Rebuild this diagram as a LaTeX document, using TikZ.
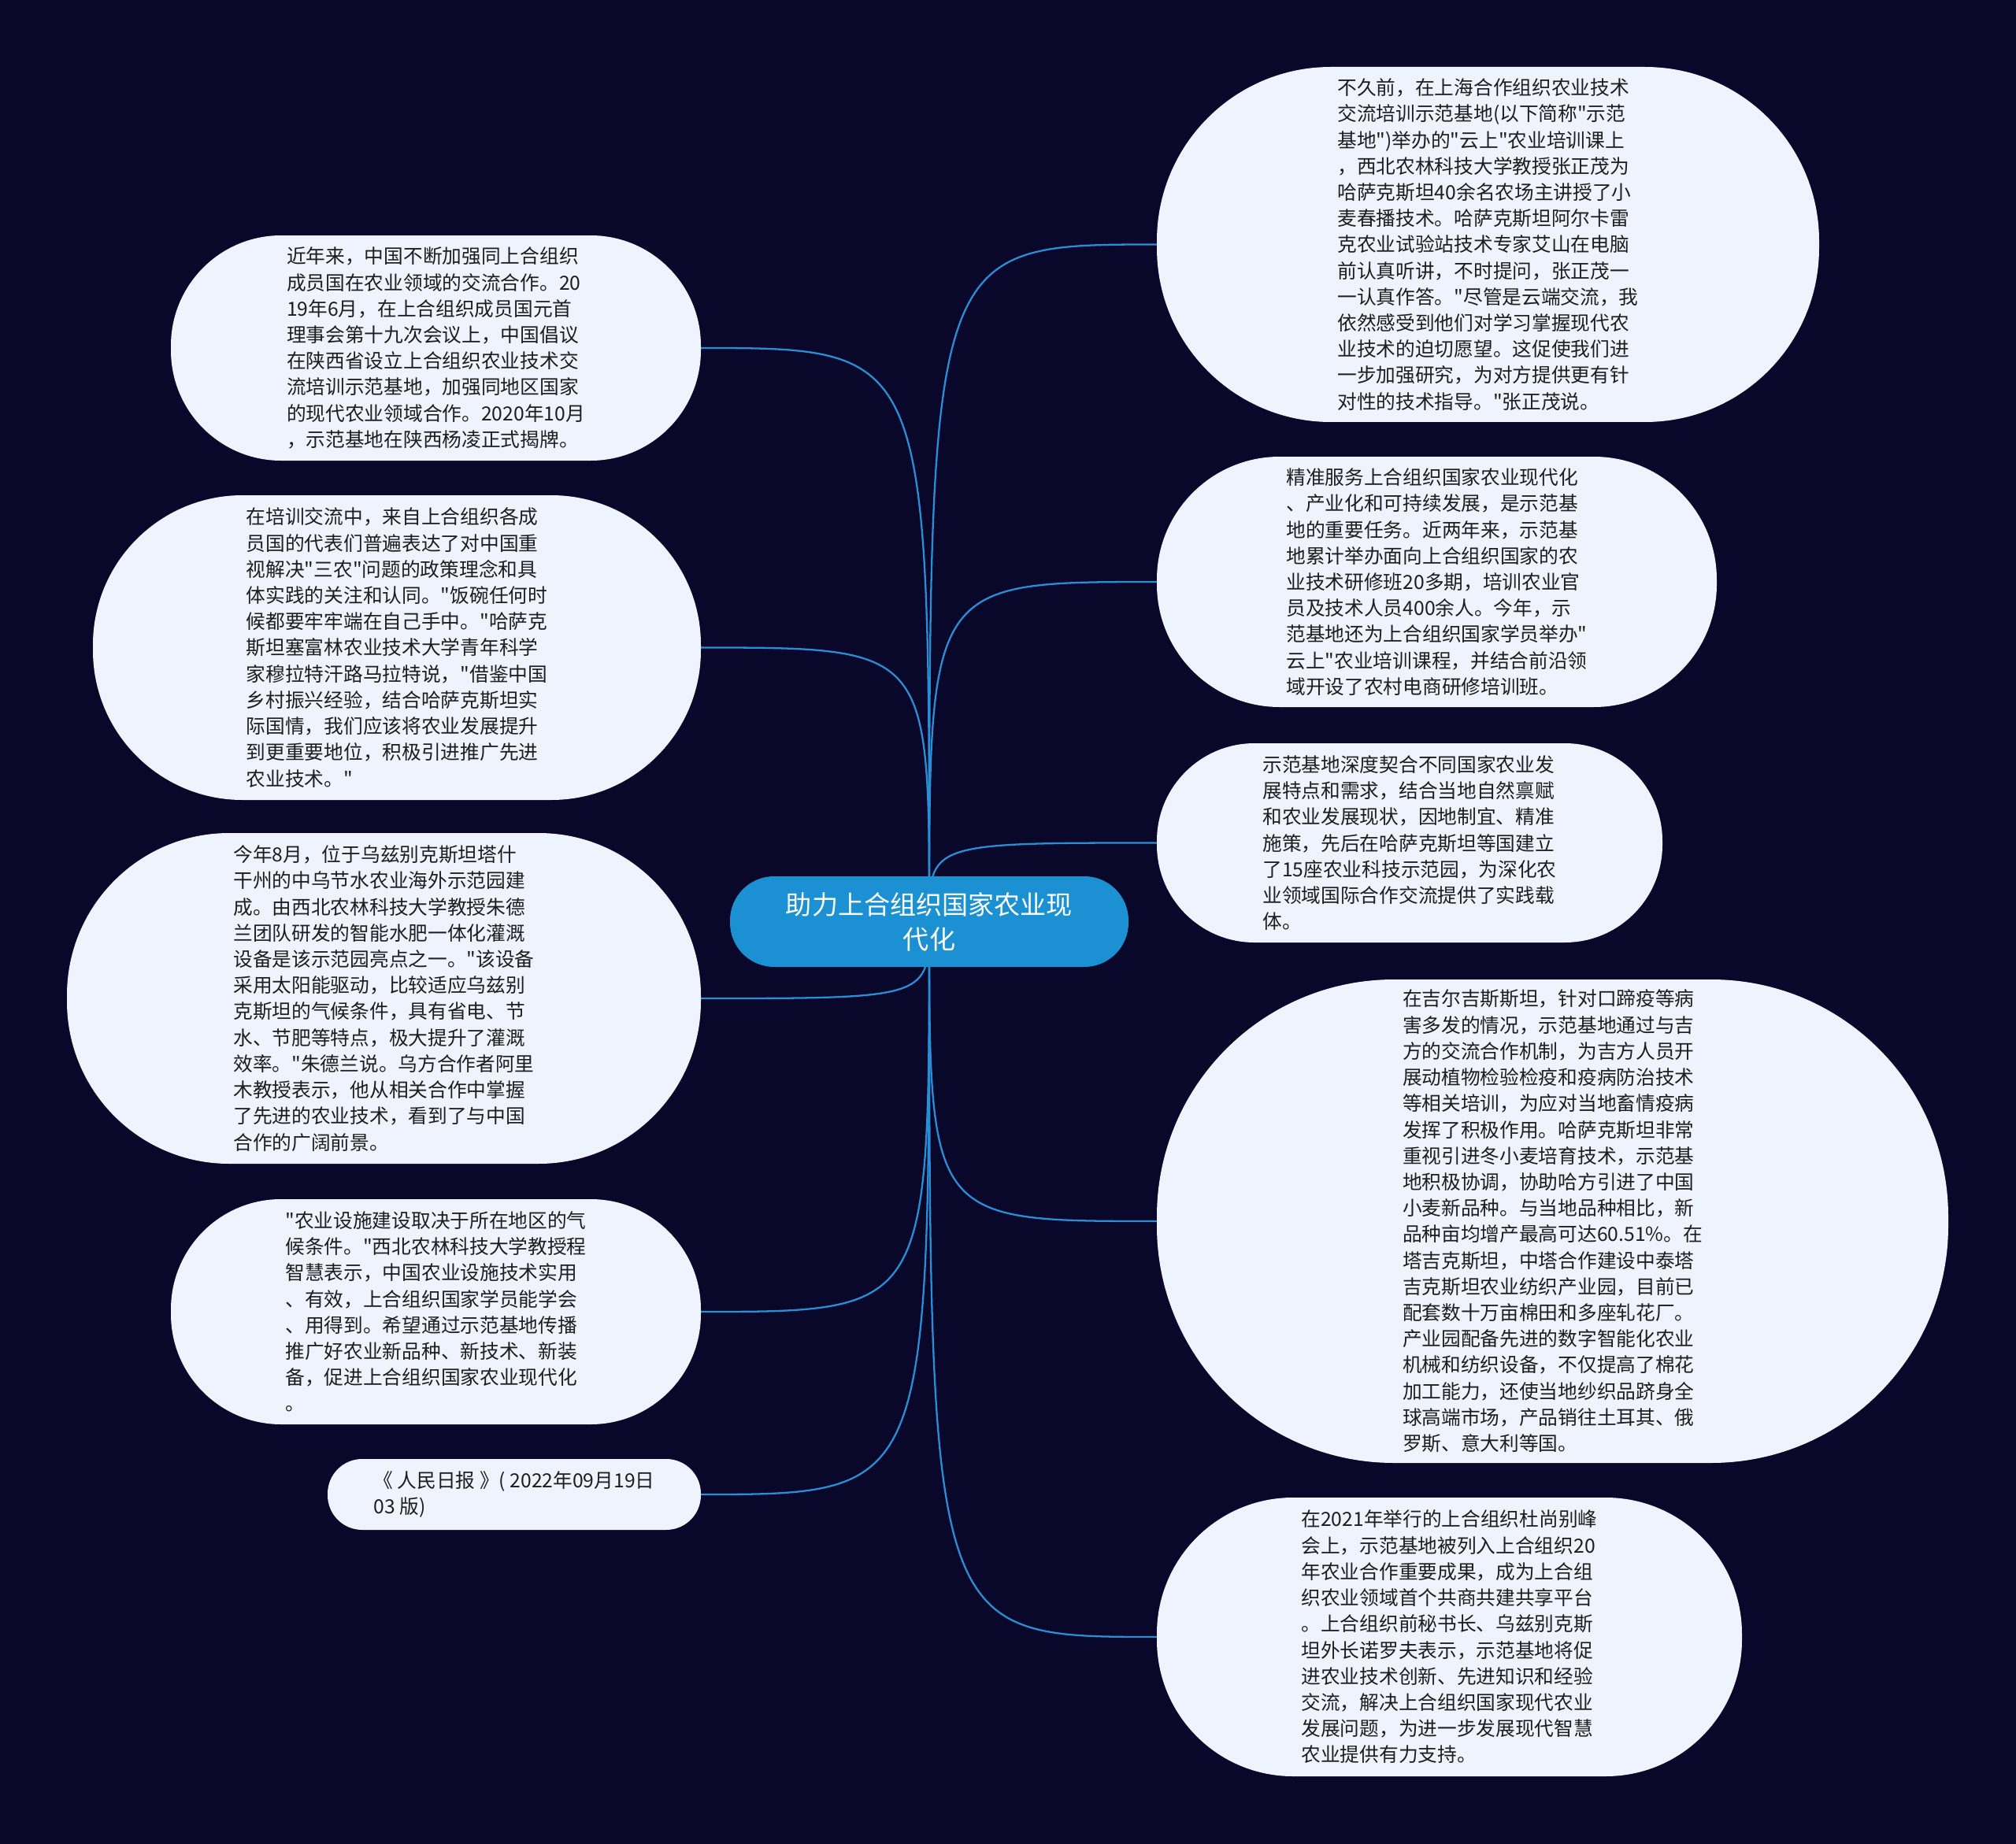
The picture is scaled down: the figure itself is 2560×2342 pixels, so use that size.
\documentclass[tikz,border=0pt]{standalone}
\usepackage{fontspec}
\newfontfamily\cjk{Noto Sans CJK SC}
\definecolor{bgc}{RGB}{10,8,42}
\definecolor{nodefill}{RGB}{238,243,253}
\definecolor{ctrfill}{RGB}{27,145,212}
\definecolor{linec}{RGB}{42,142,214}
\definecolor{txt}{RGB}{30,30,30}
\pgfdeclarelayer{back}
\pgfdeclarelayer{bg}
\pgfsetlayers{back,bg,main}
\begin{document}
\begin{tikzpicture}[x=0.1mm,y=-0.1mm,
  leaf/.style={fill=nodefill, text=txt, align=left, inner sep=0pt, outer sep=0pt,
    font=\cjk\fontsize{7.03pt}{9.45pt}\selectfont},
  hubnode/.style={fill=ctrfill, text=white, align=center, inner sep=0pt, outer sep=0pt,
    font=\cjk\fontsize{9.42pt}{12.5pt}\selectfont},
  link/.style={draw=linec, line width=0.65pt}]
\begin{pgfonlayer}{back}
\fill[bgc] (0,0) rectangle (2560,2342);
\end{pgfonlayer}
\useasboundingbox (0,0) rectangle (2560,2342);

\node[hubnode, minimum width=50.6mm, minimum height=11.5mm, rounded corners=5.6mm] (C) at (1180,1170.5)
{助力上合组织国家农业现\\代化};

\node[leaf, minimum width=67.3mm, minimum height=28.6mm, rounded corners=14mm] (L1) at (553.5,442) {%
近年来，中国不断加强同上合组织\\
成员国在农业领域的交流合作。20\\
19年6月，在上合组织成员国元首\\
理事会第十九次会议上，中国倡议\\
在陕西省设立上合组织农业技术交\\
流培训示范基地，加强同地区国家\\
的现代农业领域合作。2020年10月\\
，示范基地在陕西杨凌正式揭牌。};

\node[leaf, minimum width=77.2mm, minimum height=38.7mm, rounded corners=19mm] (L2) at (504,822.5) {%
在培训交流中，来自上合组织各成\\
员国的代表们普遍表达了对中国重\\
视解决"三农"问题的政策理念和具\\
体实践的关注和认同。"饭碗任何时\\
候都要牢牢端在自己手中。"哈萨克\\
斯坦塞富林农业技术大学青年科学\\
家穆拉特汗路马拉特说，"借鉴中国\\
乡村振兴经验，结合哈萨克斯坦实\\
际国情，我们应该将农业发展提升\\
到更重要地位，积极引进推广先进\\
农业技术。"};

\node[leaf, minimum width=80.5mm, minimum height=42mm, rounded corners=20.6mm] (L3) at (487.5,1268) {%
今年8月，位于乌兹别克斯坦塔什\\
干州的中乌节水农业海外示范园建\\
成。由西北农林科技大学教授朱德\\
兰团队研发的智能水肥一体化灌溉\\
设备是该示范园亮点之一。"该设备\\
采用太阳能驱动，比较适应乌兹别\\
克斯坦的气候条件，具有省电、节\\
水、节肥等特点，极大提升了灌溉\\
效率。"朱德兰说。乌方合作者阿里\\
木教授表示，他从相关合作中掌握\\
了先进的农业技术，看到了与中国\\
合作的广阔前景。};

\node[leaf, minimum width=67.3mm, minimum height=28.6mm, rounded corners=14mm] (L4) at (553.5,1666) {%
"农业设施建设取决于所在地区的气\\
候条件。"西北农林科技大学教授程\\
智慧表示，中国农业设施技术实用\\
、有效，上合组织国家学员能学会\\
、用得到。希望通过示范基地传播\\
推广好农业新品种、新技术、新装\\
备，促进上合组织国家农业现代化\\
。};

\node[leaf, minimum width=47.4mm, minimum height=9mm, rounded corners=4.4mm] (L5) at (653,1898) {%
《 人民日报 》( 2022年09月19日\\
03 版)};

\node[leaf, minimum width=84.1mm, minimum height=45.1mm, rounded corners=22.1mm] (R1) at (1889.5,310.5) {%
不久前，在上海合作组织农业技术\\
交流培训示范基地(以下简称"示范\\
基地")举办的"云上"农业培训课上\\
，西北农林科技大学教授张正茂为\\
哈萨克斯坦40余名农场主讲授了小\\
麦春播技术。哈萨克斯坦阿尔卡雷\\
克农业试验站技术专家艾山在电脑\\
前认真听讲，不时提问，张正茂一\\
一认真作答。"尽管是云端交流，我\\
依然感受到他们对学习掌握现代农\\
业技术的迫切愿望。这促使我们进\\
一步加强研究，为对方提供更有针\\
对性的技术指导。"张正茂说。};

\node[leaf, minimum width=71.1mm, minimum height=31.8mm, rounded corners=15.6mm] (R2) at (1824.5,739) {%
精准服务上合组织国家农业现代化\\
、产业化和可持续发展，是示范基\\
地的重要任务。近两年来，示范基\\
地累计举办面向上合组织国家的农\\
业技术研修班20多期，培训农业官\\
员及技术人员400余人。今年，示\\
范基地还为上合组织国家学员举办"\\
云上"农业培训课程，并结合前沿领\\
域开设了农村电商研修培训班。};

\node[leaf, minimum width=64.2mm, minimum height=25.3mm, rounded corners=12.4mm] (R3) at (1790,1070.5) {%
示范基地深度契合不同国家农业发\\
展特点和需求，结合当地自然禀赋\\
和农业发展现状，因地制宜、精准\\
施策，先后在哈萨克斯坦等国建立\\
了15座农业科技示范园，为深化农\\
业领域国际合作交流提供了实践载\\
体。};

\node[leaf, minimum width=100.5mm, minimum height=61.4mm, rounded corners=30.1mm] (R4) at (1971.5,1551) {%
在吉尔吉斯斯坦，针对口蹄疫等病\\
害多发的情况，示范基地通过与吉\\
方的交流合作机制，为吉方人员开\\
展动植物检验检疫和疫病防治技术\\
等相关培训，为应对当地畜情疫病\\
发挥了积极作用。哈萨克斯坦非常\\
重视引进冬小麦培育技术，示范基\\
地积极协调，协助哈方引进了中国\\
小麦新品种。与当地品种相比，新\\
品种亩均增产最高可达60.51\%。在\\
塔吉克斯坦，中塔合作建设中泰塔\\
吉克斯坦农业纺织产业园，目前已\\
配套数十万亩棉田和多座轧花厂。\\
产业园配备先进的数字智能化农业\\
机械和纺织设备，不仅提高了棉花\\
加工能力，还使当地纱织品跻身全\\
球高端市场，产品销往土耳其、俄\\
罗斯、意大利等国。};

\node[leaf, minimum width=74.3mm, minimum height=35.4mm, rounded corners=17.3mm] (R5) at (1840.5,2079) {%
在2021年举行的上合组织杜尚别峰\\
会上，示范基地被列入上合组织20\\
年农业合作重要成果，成为上合组\\
织农业领域首个共商共建共享平台\\
。上合组织前秘书长、乌兹别克斯\\
坦外长诺罗夫表示，示范基地将促\\
进农业技术创新、先进知识和经验\\
交流，解决上合组织国家现代农业\\
发展问题，为进一步发展现代智慧\\
农业提供有力支持。};

\begin{pgfonlayer}{bg}
\foreach \n in {L1,L2,L3,L4,L5}
  \draw[link] (C.center) .. controls (C.center |- \n.east) .. (\n.east);
\foreach \n in {R1,R2,R3,R4,R5}
  \draw[link] (C.center) .. controls (C.center |- \n.west) .. (\n.west);
\end{pgfonlayer}
\end{tikzpicture}
\end{document}
